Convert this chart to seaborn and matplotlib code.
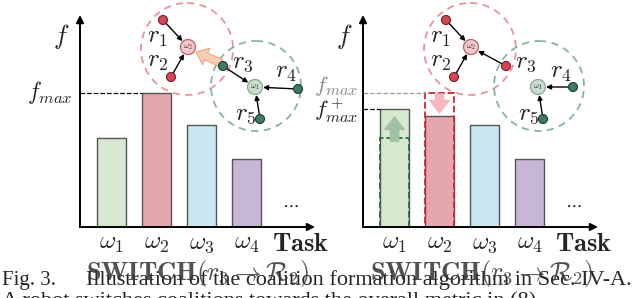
import seaborn as sns
import numpy as np
import matplotlib.pyplot as plt
import matplotlib.patches as mpatches

# data
tasks = [r'$\omega_1$', r'$\omega_2$', r'$\omega_3$', r'$\omega_4$']
f_before = [0.66, 1.0, 0.76, 0.51]
f_after = [0.88, 0.83, 0.76, 0.51]
bar_colors = ['#d6e9cf', '#e6a6ae', '#c9e7f3', '#c7b6d6']
box_colors = ['#2f6b4c', '#d8232f']

sns.set_theme(style='white')
plt.rcParams['font.family'] = ['Liberation Serif', 'DejaVu Serif']
plt.rcParams['mathtext.fontset'] = 'cm'

W, H = 640, 298
fig = plt.figure(figsize=(6.4, 2.98), dpi=100)


def px_axes(x0, x1, ytop, ybot):
    return fig.add_axes([x0 / W, 1 - ybot / H, (x1 - x0) / W, (ybot - ytop) / H])


def setup(ax):
    ax.set_xlim(-0.7, 4.52)
    ax.set_ylim(0, 1.58)
    for s in ax.spines.values():
        s.set_visible(False)
    ax.set_xticks(range(4))
    ax.set_xticklabels(tasks, fontsize=18)
    ax.tick_params(axis='x', length=0, pad=4)
    ax.set_yticks([])
    ax.set_xlabel('')
    ax.set_ylabel('')
    ax.annotate('', xy=(1.0, 0), xytext=(0, 0), xycoords='axes fraction',
                arrowprops=dict(arrowstyle='-|>', lw=1.4, color='black', mutation_scale=11,
                                shrinkA=0, shrinkB=0))
    ax.annotate('', xy=(0, 1.0), xytext=(0, 0), xycoords='axes fraction',
                arrowprops=dict(arrowstyle='-|>', lw=1.4, color='black', mutation_scale=11,
                                shrinkA=0, shrinkB=0))
    ax.text(0.94, -0.085, r'$\mathbf{Task}$', transform=ax.transAxes, fontsize=19,
            ha='center', va='center')
    ax.text(3.97, 0.16, r'$\cdots$', fontsize=13, ha='center', va='center')
    ax.text(-0.08, 0.9, r'$f$', transform=ax.transAxes, fontsize=19, ha='center', va='center')
    ax.patch.set_alpha(0)


# left panel
axL = px_axes(80, 315, 15, 227)
sns.barplot(x=tasks, y=f_before, hue=tasks, palette=bar_colors, width=0.64, saturation=1,
            edgecolor='#555555', linewidth=1.0, legend=False, ax=axL)
setup(axL)
axL.plot([-0.7, 1 - 0.32], [f_before[1], f_before[1]], ls='--', color='black', lw=0.9)
axL.text(-0.03, f_before[1], r'$f_{max}$', transform=axL.get_yaxis_transform(), fontsize=17,
         ha='right', va='center')

# right panel
axR = px_axes(363, 598, 15, 227)
sns.barplot(x=tasks, y=f_after, hue=tasks, palette=bar_colors, width=0.64, saturation=1,
            edgecolor='#555555', linewidth=1.0, legend=False, ax=axR)
sns.barplot(x=tasks[:2], y=f_before[:2], hue=tasks[:2], palette=box_colors, width=0.64,
            fill=False, linestyle='--', linewidth=1.3, legend=False, ax=axR)
setup(axR)
axR.plot([-0.7, 1 - 0.32], [f_before[1], f_before[1]], ls='--', color='#999999', lw=0.9)
axR.plot([-0.7, -0.32], [f_after[0], f_after[0]], ls='--', color='black', lw=0.9)
axR.text(-0.02, f_before[1] + 0.005, r'$f_{max}$', transform=axR.get_yaxis_transform(),
         fontsize=16.5, ha='right', va='baseline', color='#8a8a8a')
axR.text(-0.02, f_after[0] - 0.065, r'$f^+_{max}$', transform=axR.get_yaxis_transform(),
         fontsize=16.5, ha='right', va='baseline')
axR.annotate('', xy=(0, 0.82), xytext=(0, 0.64),
             arrowprops=dict(arrowstyle='simple,head_width=1.4,head_length=0.9,tail_width=0.6',
                             fc='#9fc2a7', ec='#9fc2a7', mutation_scale=10, shrinkA=0, shrinkB=0))
axR.annotate('', xy=(1, 0.85), xytext=(1, 0.99),
             arrowprops=dict(arrowstyle='simple,head_width=1.4,head_length=0.9,tail_width=0.6',
                             fc='#f6b8bf', ec='#f6b8bf', mutation_scale=10, shrinkA=0, shrinkB=0))

# overlay for coalition diagrams and caption
ov = fig.add_axes([0, 0, 1, 1])
ov.set_xlim(0, W)
ov.set_ylim(H, 0)
ov.axis('off')
ov.patch.set_alpha(0)

RED, RED_EC = '#d84450', '#6e1f27'
GRN, GRN_EC = '#3f7b63', '#1d3d30'


def robot(x, y, c, ec):
    ov.add_patch(mpatches.Circle((x, y), 4.5, fc=c, ec=ec, lw=0.8, zorder=5))


def task_node(x, y, fc, ec, lab):
    ov.add_patch(mpatches.Circle((x, y), 7.5, fc=fc, ec=ec, lw=0.9, zorder=5))
    ov.text(x, y, lab, fontsize=6, ha='center', va='center', zorder=6, color='#333333')


def link(a, b):
    ov.annotate('', xy=b, xytext=a,
                arrowprops=dict(arrowstyle='-|>', lw=1.0, color='black', mutation_scale=7,
                                shrinkA=3.5, shrinkB=5.8))


def net(dx, r3, r4, r3_red):
    w2 = (188 + dx, 47)
    w1 = (255 + dx, 87)
    ov.add_patch(mpatches.Circle((187 + dx, 49), 46, fill=False, ec='#e8939a', lw=1.3,
                                 ls=(0, (4, 3))))
    ov.add_patch(mpatches.Circle((256 + dx, 86), 45, fill=False, ec='#86b59f', lw=1.3,
                                 ls=(0, (4, 3))))
    r1 = (163 + dx, 20)
    r2 = (171 + dx, 77)
    r5 = (260 + dx, 119)
    link(r1, w2)
    link(r2, w2)
    link(r3, w2 if r3_red else w1)
    link(r4, w1)
    link(r5, w1)
    task_node(*w2, '#f5c6cb', '#b5646e', r'$\omega_2$')
    task_node(*w1, '#c9ddcf', '#86a893', r'$\omega_1$')
    robot(*r1, RED, RED_EC)
    robot(*r2, RED, RED_EC)
    robot(*r3, RED if r3_red else GRN, RED_EC if r3_red else GRN_EC)
    robot(*r4, GRN, GRN_EC)
    robot(*r5, GRN, GRN_EC)
    ov.text(157 + dx, 38, r'$r_1$', fontsize=18, ha='center', va='center')
    ov.text(158 + dx, 62, r'$r_2$', fontsize=18, ha='center', va='center')
    ov.text(r3[0] + 20, 63, r'$r_3$', fontsize=18, ha='center', va='center')
    ov.text(r4[0] - 12, 73, r'$r_4$', fontsize=18, ha='center', va='center')
    ov.text(246 + dx, 115, r'$r_5$', fontsize=18, ha='center', va='center')


net(0, (223, 66), (298, 89), False)
ov.annotate('', xy=(196, 52), xytext=(221, 63),
            arrowprops=dict(arrowstyle='simple,head_width=1.3,head_length=0.8,tail_width=0.55',
                            fc='#f9cdb0', ec='#f2a07a', lw=0.7, mutation_scale=10,
                            shrinkA=0, shrinkB=0))
net(283, (506, 66), (573, 87), True)

# caption
ov.text(2, 285, 'Fig. 3.', fontsize=15, ha='left', va='baseline')
ov.text(86, 285, 'Illustration of the coalition formation algorithm in Sec. IV-A.',
        fontsize=16, ha='left', va='baseline')
ov.text(2, 306, 'A robot switches coalitions towards the overall metric in (8).',
        fontsize=16, ha='left', va='baseline')
ov.text(86, 280, r'$\mathbf{SWITCH}(r_3 \rightarrow \mathcal{R}_2)$', fontsize=19,
        ha='left', va='baseline', color='#333333', alpha=0.85)
ov.text(370, 280, r'$\mathbf{SWITCH}(r_3 \rightarrow \mathcal{R}_2)$', fontsize=19,
        ha='left', va='baseline', color='#333333', alpha=0.85)

fig.savefig('out.png', dpi=100)
